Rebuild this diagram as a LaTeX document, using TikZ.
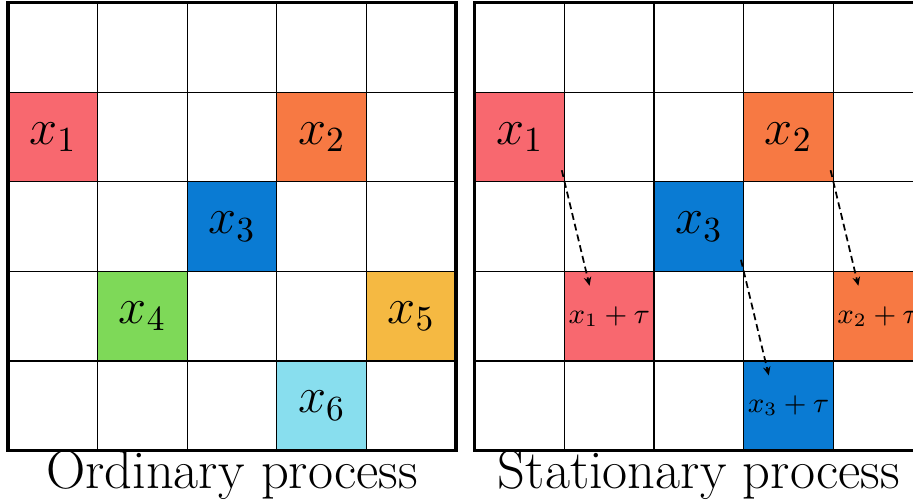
\RequirePackage{fix-cm}
\documentclass[tikz,border=0pt]{standalone}
\usetikzlibrary{arrows.meta}

\definecolor{redx}{RGB}{248,104,111}
\definecolor{orangex}{RGB}{247,121,67}
\definecolor{bluex}{RGB}{10,123,211}
\definecolor{greenx}{RGB}{126,217,88}
\definecolor{yellowx}{RGB}{245,185,66}
\definecolor{cyanx}{RGB}{136,222,238}

\begin{document}
\begin{tikzpicture}[
        cellbox/.style={draw=black, thin, minimum size=1cm, inner sep=0pt, outer sep=0pt,
            font=\fontsize{16}{19}\selectfont},
        shiftbox/.style={cellbox, font=\fontsize{9}{11}\selectfont},
        caption/.style={anchor=base, inner sep=0pt, font=\fontsize{17.3}{20}\selectfont},
        lagarrow/.style={-{Stealth[length=2.8pt,width=2.4pt]}, line width=0.55pt,
            dash pattern=on 2.2pt off 1.3pt}]

            \useasboundingbox (-0.09,-0.58) rectangle (10.10,5.03);

            \node[cellbox, fill=redx]    (a1) at (0.5,3.5) {$x_1$};
            \node[cellbox, fill=orangex] (a2) at (3.5,3.5) {$x_2$};
            \node[cellbox, fill=bluex]   (a3) at (2.5,2.5) {$x_3$};
            \node[cellbox, fill=greenx]  (a4) at (1.5,1.5) {$x_4$};
            \node[cellbox, fill=yellowx] (a5) at (4.5,1.5) {$x_5$};
            \node[cellbox, fill=cyanx]   (a6) at (3.5,0.5) {$x_6$};

            \draw[thin] (0,0) grid (5,5);
            \draw[line width=1pt] (0,0) rectangle (5,5);
            \node[caption] (ordinary) at (2.5,-0.425) {Ordinary process};

            \begin{scope}[xshift=5.21cm]
                \node[cellbox, fill=redx]    (b1) at (0.5,3.5) {$x_1$};
                \node[cellbox, fill=orangex] (b2) at (3.5,3.5) {$x_2$};
                \node[cellbox, fill=bluex]   (b3) at (2.5,2.5) {$x_3$};

                \node[shiftbox, fill=redx]    (c1) at (1.5,1.5) {$x_1+\tau$};
                \node[shiftbox, fill=orangex] (c2) at (4.5,1.5) {$x_2+\tau$};
                \node[shiftbox, fill=bluex]   (c3) at (3.5,0.5) {$x_3+\tau$};

                \draw[thin] (0,0) grid (5,5);
                \draw[line width=1pt] (0,0) rectangle (5,5);
                \node[caption] (stationary) at (2.5,-0.425) {Stationary process};
            \end{scope}

            \foreach \i in {1,2,3} {
                \draw[lagarrow] ([shift={(-0.03,0.13)}]b\i.south east) -- ([shift={(0.28,-0.16)}]c\i.north west);
            }
        \end{tikzpicture}
\end{document}
